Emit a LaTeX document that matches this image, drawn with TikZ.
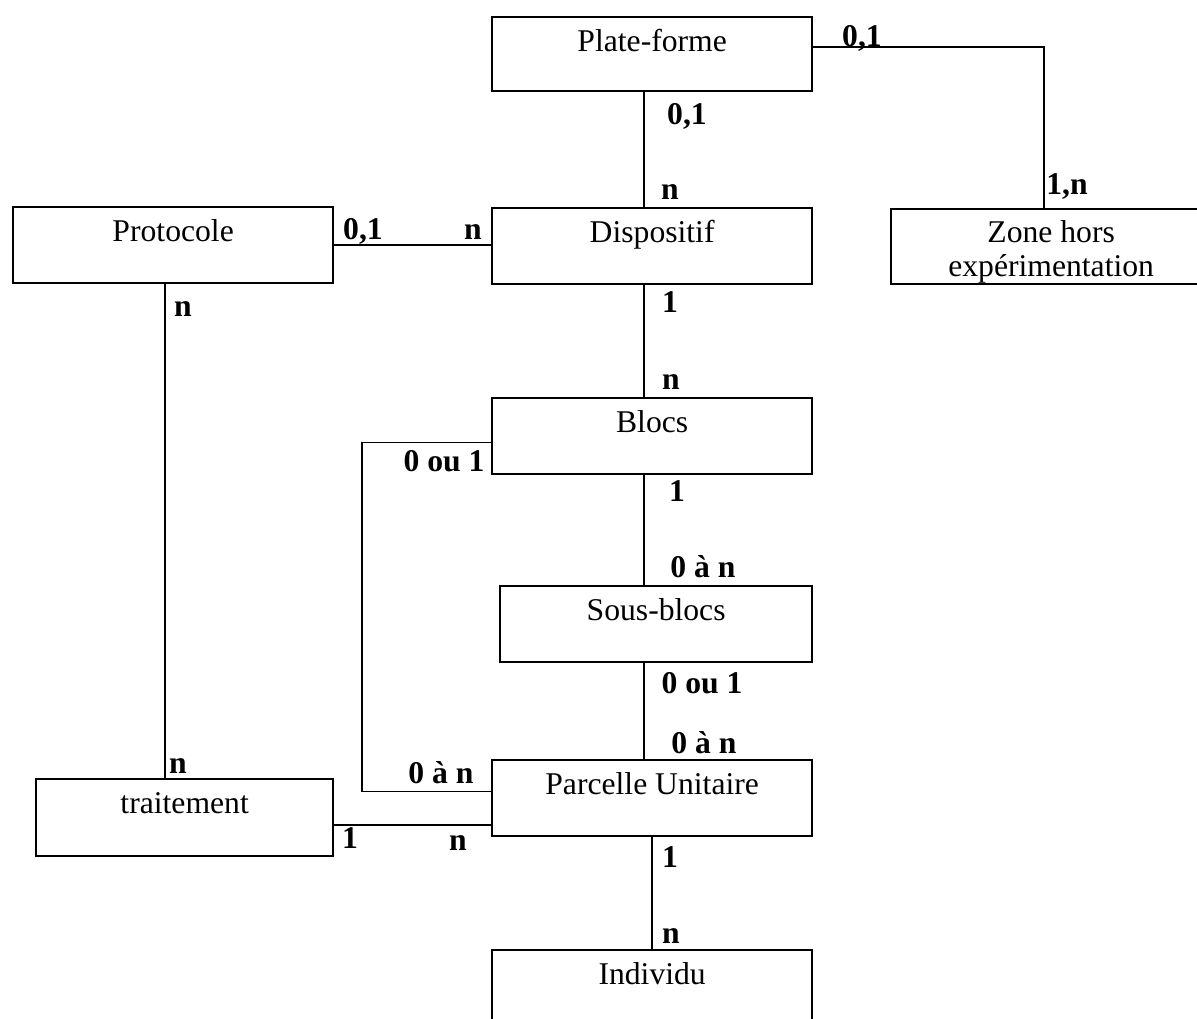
\documentclass[tikz,border=0pt]{standalone}
\usepackage{fontspec}
\setmainfont{Liberation Serif}
\usetikzlibrary{calc}

\begin{document}
\begin{tikzpicture}[x=0.01cm, y=-0.01cm,
        entity/.style={draw, line width=0.6pt, anchor=north west, inner sep=0pt,
                minimum width=3.2cm, text height=0.34cm, text depth=0.42cm,
                align=center, font=\fontsize{9}{10}\selectfont},
        link/.style={line width=0.5pt},
        card/.style={anchor=base, inner sep=0pt,
                font=\fontsize{9}{10}\selectfont\bfseries}]
        \useasboundingbox (0,0) rectangle (1197,1019);

        % ENTITIES
        \node[entity, text depth=0.40cm] (plat) at (491,16) {Plate-forme};
        \node[entity] (proto) at (12,206) {Protocole};
        \node[entity] (disp) at (491,207) {Dispositif};
        \node[entity, text height=0.675cm, text depth=0.075cm,
              font=\fontsize{9}{9.8}\selectfont] (zone) at (890,208) {Zone hors\\expérimentation};
        \node[entity] (blocs) at (491,397) {Blocs};
        \node[entity, minimum width=3.12cm] (sous) at (499,585) {Sous-blocs};
        \node[entity] (parc) at (491,759) {Parcelle Unitaire};
        \node[entity, minimum width=2.97cm, text depth=0.43cm] (trait) at (35,778) {traitement};
        \node[entity] (indiv) at (491,949) {Individu};

        % LINKS
        \draw[link] ([xshift=-0.08cm]plat.south) -- ([xshift=-0.08cm]disp.north);
        \draw[link] ([yshift=0.07cm]plat.east) -| ([xshift=-0.07cm]zone.north);
        \draw[link] (proto.east) -- (proto.east -| disp.west);
        \draw[link] ([xshift=-0.08cm]disp.south) -- ([xshift=-0.08cm]blocs.north);
        \draw[link] ([xshift=-0.08cm]blocs.south) coordinate (b) -- (b |- sous.north);
        \draw[link] ([xshift=-0.08cm]parc.north) coordinate (p) -- (p |- sous.south);
        \draw[link] (parc.south) -- (indiv.north);
        \draw[link] ([xshift=-0.08cm]proto.south) coordinate (q) -- (q |- trait.north);
        \draw[link] ([yshift=-0.065cm]blocs.west) -- ++(-129,0) |- ([yshift=0.065cm]parc.west);
        \draw[link] ([yshift=-0.075cm]trait.east) coordinate (t) -- (t -| parc.west);

        % CARDINALITIES
        \node[card] (c-pz) at (862,47) {0,1};
        \node[card] (c-zp) at (1067,195) {1,n};
        \node[card] (c-pd) at (687,125) {0,1};
        \node[card] (c-dp) at (670,200) {n};
        \node[card] (c-prd) at (363,240) {0,1};
        \node[card] (c-dpr) at (473,240) {n};
        \node[card] (c-prt) at (183,317) {n};
        \node[card] (c-tpr) at (178,773) {n};
        \node[card] (c-db) at (670,313) {1};
        \node[card] (c-bd) at (671,390) {n};
        \node[card] (c-bp) at (444,472) {0 ou 1};
        \node[card] (c-pb) at (441,783) {0 à n};
        \node[card] (c-bs) at (677,502) {1};
        \node[card] (c-sb) at (703,578) {0 à n};
        \node[card] (c-sp) at (702,693) {0 ou 1};
        \node[card] (c-ps) at (704,753) {0 à n};
        \node[card] (c-tp) at (350,848) {1};
        \node[card] (c-pt) at (458,850) {n};
        \node[card] (c-pi) at (670,867) {1};
        \node[card] (c-ip) at (671,943) {n};

\end{tikzpicture}
\end{document}
